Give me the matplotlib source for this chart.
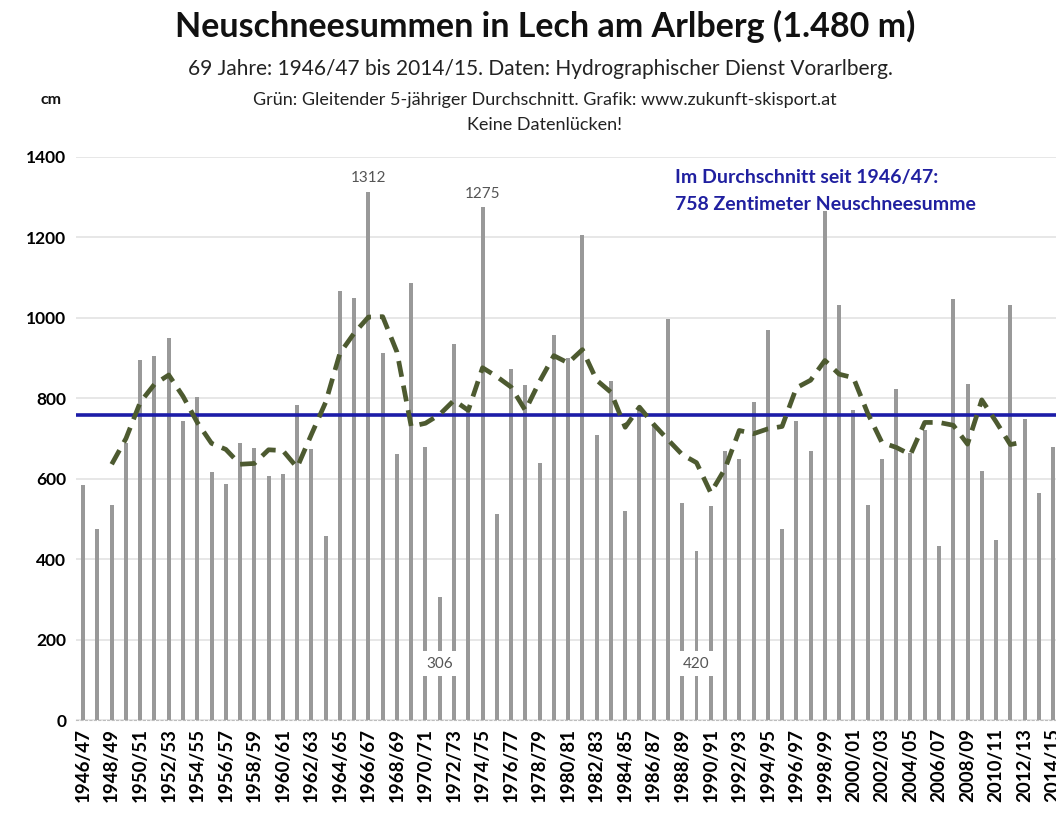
import matplotlib
matplotlib.use("Agg")
import matplotlib.pyplot as plt

plt.rcParams['font.family'] = ['Lato', 'DejaVu Sans']

seasons = [f"{y}/{str(y + 1)[-2:]}" for y in range(1946, 2015)]

snow_cm = [585, 476, 535, 690, 894, 905, 949, 743, 802, 616,
           586, 688, 676, 606, 612, 783, 674, 457, 1068, 1050,
           1312, 913, 661, 1086, 679, 306, 936, 770, 1275, 512,
           874, 834, 638, 958, 900, 1205, 709, 842, 520, 770,
           735, 996, 540, 420, 533, 670, 650, 791, 969, 474,
           743, 670, 1265, 1031, 770, 535, 650, 824, 665, 720,
           432, 1048, 835, 618, 448, 1031, 748, 565, 679]

# gliding 5-year average (1948/49 .. 2012/13)
avg5_cm = [636, 700, 790, 835, 858, 805, 740, 688, 673, 636,
           638, 672, 670, 628, 710, 790, 912, 962, 1002, 1003,
           915, 730, 738, 760, 795, 770, 876, 854, 828, 770,
           842, 906, 888, 921, 845, 815, 728, 778, 735, 697,
           660, 640, 565, 625, 720, 712, 724, 730, 826, 845,
           894, 860, 851, 763, 690, 678, 660, 740, 740, 733,
           686, 796, 742, 685, 692]
avg5_start = 2

mean_cm = 758

fig = plt.figure(figsize=(10.56, 8.16), dpi=100)
ax = fig.add_axes([0.072, 0.1176, 0.932, 0.69])

x = list(range(len(seasons)))
ax.bar(x, snow_cm, width=0.28, color='#999999', zorder=2)
ax.axhline(mean_cm, color='#1c1ca8', lw=2.6, zorder=3)
xa = list(range(avg5_start, avg5_start + len(avg5_cm)))
ax.plot(xa, avg5_cm, color='#4d5a30', lw=3.4, ls=(0, (3.4, 1.9)),
        zorder=4, solid_joinstyle='round', dash_capstyle='butt')

ax.set_xlim(-0.5, len(seasons) - 0.5)
ax.set_ylim(0, 1400)
ax.set_yticks(range(0, 1401, 200))
ax.grid(axis='y', color='#e3e3e3', lw=1.2, zorder=0)
for s in ['top', 'right', 'left']:
    ax.spines[s].set_visible(False)
ax.spines['bottom'].set_color('#bdbdbd')
ax.spines['bottom'].set_linestyle((0, (2, 2)))
ax.tick_params(axis='y', length=0, labelsize=12.5, pad=7)
ax.tick_params(axis='x', length=0, labelsize=13.5, pad=6)
for lab in ax.get_yticklabels():
    lab.set_fontweight('bold')
ax.set_xticks(x[::2])
ax.set_xticklabels(seasons[::2], rotation=90, fontweight='bold')

# value annotations
i_max = snow_cm.index(1312)
i_2 = snow_cm.index(1275)
i_min = snow_cm.index(306)
i_min2 = snow_cm.index(420)
ax.text(i_max, 1330, "1312", ha='center', va='bottom', fontsize=11, color='#555555')
ax.text(i_2, 1290, "1275", ha='center', va='bottom', fontsize=11, color='#555555')
ax.text(i_min, 140, "306", ha='center', va='center', fontsize=11, color='#555555',
        bbox=dict(facecolor='white', edgecolor='none', pad=4), zorder=5)
ax.text(i_min2, 140, "420", ha='center', va='center', fontsize=11, color='#555555',
        bbox=dict(facecolor='white', edgecolor='none', pad=4), zorder=5)

ax.text(41.5, 1350, "Im Durchschnitt seit 1946/47:", ha='left', va='center',
        fontsize=14, fontweight='bold', color='#2020a0')
ax.text(41.5, 1283, "758 Zentimeter Neuschneesumme", ha='left', va='center',
        fontsize=14, fontweight='bold', color='#2020a0')

fig.text(0.516, 0.968, "Neuschneesummen in Lech am Arlberg (1.480 m)", ha='center',
         va='center', fontsize=24.5, fontweight='bold', color='#111111')
fig.text(0.512, 0.916, "69 Jahre: 1946/47 bis 2014/15. Daten: Hydrographischer Dienst Vorarlberg.",
         ha='center', va='center', fontsize=15, color='#222222')
fig.text(0.516, 0.878, "Grün: Gleitender 5-jähriger Durchschnitt. Grafik: www.zukunft-skisport.at",
         ha='center', va='center', fontsize=13, color='#222222')
fig.text(0.516, 0.847, "Keine Datenlücken!", ha='center', va='center', fontsize=13,
         color='#222222')
fig.text(0.038, 0.877, "cm", ha='left', va='center', fontsize=11.5, fontweight='bold',
         color='#111111')

fig.savefig("out.png", dpi=100, facecolor='white')
